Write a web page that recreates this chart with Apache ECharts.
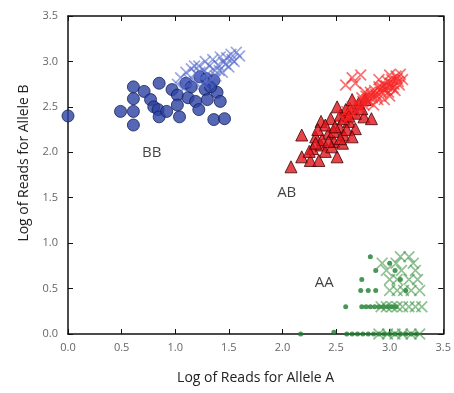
<!DOCTYPE html>
<html>
<head>
<meta charset="utf-8">
<script src="https://cdn.jsdelivr.net/npm/echarts@6/dist/echarts.min.js"></script>
<style>
  html, body { margin: 0; padding: 0; background: #fff; }
  #chart { width: 454px; height: 393px; }
</style>
</head>
<body>
<div id="chart"></div>
<script>
// BB cluster, circles (log reads A, log reads B)
var bbCircles = [
  [0.0, 2.40],
  [0.49, 2.45], [0.61, 2.72], [0.61, 2.59], [0.61, 2.45], [0.61, 2.30],
  [0.71, 2.67], [0.77, 2.58], [0.80, 2.50], [0.85, 2.76], [0.84, 2.47], [0.85, 2.39], [0.92, 2.45],
  [0.97, 2.69], [1.02, 2.63], [1.02, 2.52], [1.04, 2.39], [1.10, 2.76], [1.12, 2.60],
  [1.19, 2.56], [1.22, 2.47], [1.23, 2.83], [1.28, 2.69], [1.29, 2.81], [1.30, 2.58], [1.36, 2.79],
  [1.39, 2.66], [1.42, 2.56], [1.36, 2.36], [1.46, 2.37], [1.15, 2.72], [1.33, 2.72]
];
// BB cluster, crosses
var bbCrosses = [
  [1.02, 2.75], [1.05, 2.82], [1.08, 2.70], [1.10, 2.88], [1.13, 2.80], [1.15, 2.92], [1.18, 2.78],
  [1.20, 2.86], [1.22, 2.95], [1.25, 2.82], [1.27, 2.90], [1.28, 3.00], [1.30, 2.86], [1.32, 2.95],
  [1.34, 2.80], [1.35, 3.02], [1.37, 2.90], [1.40, 2.96], [1.42, 3.05], [1.44, 2.88], [1.45, 2.99],
  [1.48, 3.04], [1.50, 2.94], [1.52, 3.08], [1.55, 3.00], [1.57, 3.10], [1.60, 3.06], [1.18, 2.95],
  [1.26, 2.75], [1.38, 2.84], [1.31, 2.78], [1.41, 2.90], [1.47, 2.97], [1.53, 3.02], [1.23, 2.88]
];
// AB cluster, triangles
var abTriangles = [
  [2.08, 1.84], [2.18, 2.19], [2.18, 1.95], [2.28, 2.04], [2.26, 1.91], [2.31, 2.17], [2.36, 2.34],
  [2.36, 2.08], [2.40, 2.01], [2.43, 2.21], [2.45, 2.37], [2.48, 2.12], [2.51, 1.95], [2.53, 2.28],
  [2.54, 2.41], [2.57, 2.19], [2.62, 2.34], [2.63, 2.48], [2.68, 2.26], [2.71, 2.54], [2.76, 2.39],
  [2.83, 2.37], [2.34, 1.91], [2.25, 2.01], [2.40, 2.30], [2.48, 2.23], [2.46, 2.06], [2.56, 2.10],
  [2.60, 2.25], [2.65, 2.17], [2.37, 2.14], [2.31, 2.10], [2.49, 2.28], [2.57, 2.37], [2.68, 2.43],
  [2.74, 2.48], [2.59, 2.47], [2.51, 2.50], [2.65, 2.58], [2.77, 2.58], [2.43, 2.12], [2.54, 2.15],
  [2.62, 2.40], [2.33, 2.25]
];
// AB cluster, crosses
var abCrosses = [
  [2.55, 2.40], [2.60, 2.45], [2.62, 2.38], [2.65, 2.50], [2.68, 2.45], [2.70, 2.55], [2.72, 2.48],
  [2.74, 2.60], [2.76, 2.52], [2.78, 2.62], [2.80, 2.56], [2.82, 2.66], [2.84, 2.60], [2.86, 2.68],
  [2.88, 2.62], [2.90, 2.72], [2.92, 2.66], [2.94, 2.74], [2.96, 2.69], [2.98, 2.78], [3.00, 2.72],
  [3.02, 2.80], [3.04, 2.75], [3.06, 2.84], [3.08, 2.78], [3.10, 2.86], [3.00, 2.62], [2.95, 2.58],
  [3.05, 2.68], [2.85, 2.52], [3.12, 2.80], [2.90, 2.80], [3.00, 2.85],
  [2.66, 2.42], [2.71, 2.51], [2.75, 2.56], [2.79, 2.58], [2.83, 2.63], [2.87, 2.64], [2.91, 2.69],
  [2.93, 2.71], [2.97, 2.73], [3.01, 2.76], [3.03, 2.71], [3.07, 2.81], [3.09, 2.74], [2.81, 2.61],
  [2.89, 2.58], [2.77, 2.66], [2.99, 2.66], [2.58, 2.35], [2.64, 2.45],
  [2.59, 2.74], [2.68, 2.76], [2.73, 2.85], [2.65, 2.82]
];
// AA cluster, small dots
var aaDots = [
  [2.17, 0.0], [2.48, 0.02], [2.59, 0.30], [2.82, 0.85], [2.87, 0.70], [3.00, 0.78], [2.74, 0.60],
  [2.73, 0.48], [2.80, 0.48], [2.87, 0.48],
  [2.74, 0.30], [2.78, 0.30], [2.82, 0.30], [2.86, 0.30], [2.90, 0.30], [2.94, 0.30], [2.98, 0.30],
  [3.02, 0.30], [3.06, 0.30],
  [2.60, 0.0], [2.65, 0.0], [2.70, 0.0], [2.75, 0.0], [2.80, 0.0], [2.85, 0.0], [2.90, 0.0],
  [2.95, 0.0], [3.00, 0.0], [3.05, 0.0], [3.10, 0.0], [3.15, 0.0], [3.20, 0.0], [3.25, 0.0],
  [3.10, 0.60], [3.15, 0.48], [3.05, 0.70]
];
// AA cluster, crosses
var aaCrosses = [
  [3.18, 0.85], [3.10, 0.85],
  [2.93, 0.78], [3.06, 0.78], [3.22, 0.78],
  [2.97, 0.70], [3.11, 0.70], [3.24, 0.70],
  [3.00, 0.60], [3.07, 0.60], [3.18, 0.60], [3.26, 0.60],
  [3.00, 0.48], [3.07, 0.48], [3.13, 0.48], [3.20, 0.48], [3.28, 0.48],
  [2.92, 0.30], [2.97, 0.30], [3.02, 0.30], [3.07, 0.30], [3.12, 0.30], [3.18, 0.30], [3.24, 0.30], [3.30, 0.30],
  [2.90, 0.0], [2.98, 0.0], [3.05, 0.0], [3.12, 0.0], [3.20, 0.0], [3.28, 0.0]
];
// cluster labels
var clusterLabels = [
  {name: 'BB', value: [0.78, 2.0]},
  {name: 'AB', value: [2.04, 1.56]},
  {name: 'AA', value: [2.39, 0.56]}
];

var crossPath = 'path://M0,1L1,0L5,4L9,0L10,1L6,5L10,9L9,10L5,6L1,10L0,9L4,5Z';
var tickStyle = {color: '#666', fontSize: 11, fontFamily: 'Open Sans'};

var chart = echarts.init(document.getElementById('chart'));
var axisBase = {
  type: 'value', min: 0, max: 3.5, interval: 0.5,
  axisLine: {onZero: false, lineStyle: {color: '#111', width: 1.5}},
  axisTick: {inside: true, length: 5, lineStyle: {color: '#111', width: 1}},
  splitLine: {show: false}
};

chart.setOption({
  backgroundColor: '#fff',
  animation: false,
  grid: {left: 68, right: 9, top: 16, bottom: 59},
  xAxis: [
    Object.assign({}, axisBase, {
      position: 'bottom',
      name: 'Log of Reads for Allele A',
      nameLocation: 'middle',
      nameGap: 37,
      nameTextStyle: {color: '#222', fontSize: 14, fontFamily: 'Open Sans'},
      axisLabel: Object.assign({margin: 8, formatter: function (v) { return v.toFixed(1); }}, tickStyle)
    }),
    Object.assign({}, axisBase, {position: 'top', axisLabel: {show: false}})
  ],
  yAxis: [
    Object.assign({}, axisBase, {
      position: 'left',
      name: 'Log of Reads for Allele B',
      nameLocation: 'middle',
      nameGap: 37,
      nameTextStyle: {color: '#222', fontSize: 14, fontFamily: 'Open Sans', padding: [0, 0, 0, 24]},
      axisLabel: Object.assign({margin: 10, formatter: function (v) { return v.toFixed(1); }}, tickStyle)
    }),
    Object.assign({}, axisBase, {position: 'right', axisLabel: {show: false}})
  ],
  series: [
    {
      type: 'scatter', symbol: 'circle', symbolSize: 12, data: bbCircles,
      itemStyle: {color: '#2c42a3', borderColor: '#14205a', borderWidth: 1}
    },
    {
      type: 'scatter', symbol: crossPath, symbolSize: 12, data: bbCrosses,
      itemStyle: {color: 'rgba(90,110,205,0.75)'}
    },
    {
      type: 'scatter', symbol: 'triangle', symbolSize: 12, data: abTriangles,
      itemStyle: {color: '#e3141b', borderColor: '#3a0505', borderWidth: 1}
    },
    {
      type: 'scatter', symbol: crossPath, symbolSize: 12, data: abCrosses,
      itemStyle: {color: 'rgba(245,35,35,0.8)'}
    },
    {
      type: 'scatter', symbol: 'circle', symbolSize: 5, data: aaDots,
      itemStyle: {color: '#1c7c2d'}
    },
    {
      type: 'scatter', symbol: crossPath, symbolSize: 12, data: aaCrosses,
      itemStyle: {color: 'rgba(55,145,65,0.7)'}
    },
    {
      type: 'scatter', symbolSize: 0, data: clusterLabels, silent: true,
      label: {
        show: true, position: 'inside', formatter: '{b}',
        color: '#111', fontSize: 15, fontFamily: 'Open Sans'
      }
    }
  ]
});
</script>
</body>
</html>
